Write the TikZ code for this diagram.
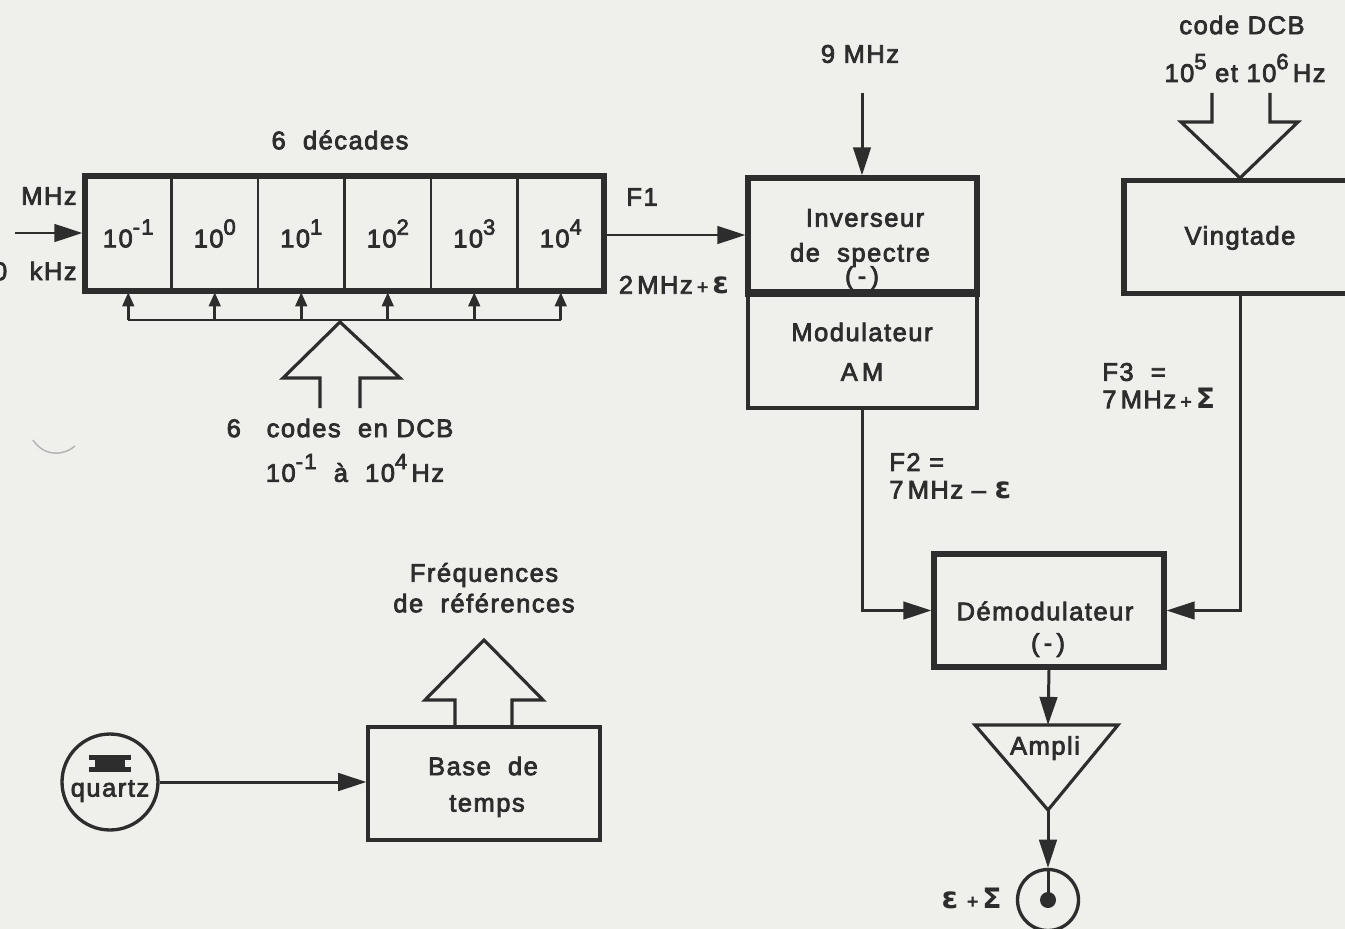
\documentclass[tikz,border=0pt]{standalone}
\usepackage{fontspec}
\setmainfont{Liberation Sans}[LetterSpace=6,FakeBold=3]
\newfontfamily\symfont{DejaVu Sans}
\usetikzlibrary{arrows.meta}
\definecolor{paper}{RGB}{239,239,236}
\definecolor{ink}{RGB}{45,45,45}
\newcommand\ex[1]{\raisebox{0.5em}{\fontsize{12.5}{12}\selectfont #1}}
\newcommand\eps{{\symfont\bfseries\fontsize{17}{17}\selectfont ε}}
\newcommand\sig{{\symfont\bfseries\fontsize{16}{16}\selectfont Σ}}
\newcommand\pls{{\fontsize{11}{11}\selectfont +}}
\begin{document}
\begin{tikzpicture}[x=0.02cm,y=-0.02cm,
  txt/.style={text=ink, font=\fontsize{14.5}{17}\selectfont, inner sep=0pt, align=center},
  ln/.style={draw=ink, line width=1.7pt},
  arr/.style={ln, -{Triangle[length=16pt,width=10pt]}},
  sarr/.style={ln, -{Triangle[length=8pt,width=6.5pt]}},
  hollow/.style={draw=ink, line width=1.8pt, line join=miter},
  thickbox/.style={draw=ink, line width=3pt, inner sep=0pt},
  thinbox/.style={draw=ink, line width=1.9pt, inner sep=0pt},
  cell/.style={draw=ink, line width=1.4pt, inner sep=0pt, minimum width=1.73cm, minimum height=2.3cm, text=ink, font=\fontsize{14.5}{17}\selectfont}
]
\useasboundingbox (0,0) rectangle (1345,929);
\clip (0,0) rectangle (1345,929);
\fill[paper] (0,0) rectangle (1345,929);

% ---- decades block
\node[cell] (c1) at (128.25,233.5) {10\ex{-1}};
\node[cell] (c2) at (214.75,233.5) {10\ex{0}};
\node[cell] (c3) at (301.25,233.5) {10\ex{1}};
\node[cell] (c4) at (387.75,233.5) {10\ex{2}};
\node[cell] (c5) at (474.25,233.5) {10\ex{3}};
\node[cell] (c6) at (560.75,233.5) {10\ex{4}};
\node[thickbox, minimum width=10.38cm, minimum height=2.3cm] (dec) at (344.5,233.5) {};
\node[txt] (sixdec) at (340,140) {6\ \ décades};
\node[txt, anchor=east] (mhz) at (77,196) {MHz};
\node[txt, anchor=east] (khz) at (77,271) {0\hspace{0.45cm}kHz};
\coordinate (inL) at (15,233);
\draw[arr] (inL) -- (inL -| dec.west);

% bus
\coordinate (busL) at (128,320);
\coordinate (busR) at (561,320);
\draw[ln] (busL) -- (busR);
\foreach \c in {c1,c2,c3,c4,c5,c6}{
  \draw[sarr] (\c.south |- busL) -- (\c.south);
}
% hollow arrow (6 codes)
\draw[hollow] (320,408) -- (320,378) -- (283,378) -- (340,322) -- (400,378) -- (360,378) -- (360,408);
\node[txt] (codes) at (340,428) {6\ \ \ codes\ \ en\ DCB};
\node[txt] (codesr) at (355,468) {10\ex{-1}\ \ à\ \ 10\ex{4}\,Hz};

% ---- inverseur / modulateur
\node[thickbox, minimum width=4.58cm, minimum height=2.28cm] (inv) at (862.5,235) {};
\node[thinbox, minimum width=4.58cm, minimum height=2.32cm] (mod) at (862.5,350) {};
\draw[draw=ink, line width=3pt] (inv.south west) -- (inv.south east);
\node[txt] at (865,218) {Inverseur};
\node[txt] at (860,255) {de\ \ spectre};
\node[txt] at (862,278) {(\,-\,)};
\node[txt] at (862,332) {Modulateur};
\node[txt] at (862,372) {A\,M};

\node[txt] (f1) at (642,197) {F1};
\node[txt] (f1v) at (674,285) {2\,MHz\,\pls\,\eps};
\draw[arr] (inv.west -| dec.east) -- (inv.west);

\node[txt] (nine) at (860,54) {9 MHz};
\coordinate (nineS) at (862,93);
\draw[arr] (nineS) -- (nineS |- inv.north);

% ---- vingtade
\node[thickbox, minimum width=4.64cm, minimum height=2.26cm] (ving) at (1240,237) {};
\node[txt] at (1240,238) {Vingtade};
\node[txt] (dcb) at (1242,25) {code DCB};
\node[txt] (dcbr) at (1245,68) {10\ex{5}\ et\ 10\ex{6}\,Hz};
\draw[hollow] (1212,93) -- (1212,122) -- (1181,122) -- (1240,178) -- (1298,122) -- (1270,122) -- (1270,93);

% ---- demodulateur
\node[thickbox, minimum width=4.6cm, minimum height=2.26cm] (dem) at (1049,610.5) {};
\node[txt] at (1045,611) {Démodulateur};
\node[txt] at (1048,645) {(\,-\,)};
\draw[arr] (mod.south) |- (dem.west);
\draw[arr] (ving.south) |- (dem.east);
\node[txt, anchor=west] (f2a) at (889,462) {F2 =};
\node[txt, anchor=west] (f2b) at (889,490) {7\,MHz\ –\ \eps};
\node[txt, anchor=west] (f3a) at (1102,372) {F3\ \ =};
\node[txt, anchor=west] (f3b) at (1102,398) {7\,MHz\,\pls\,\sig};

% ---- ampli
\coordinate (ampTop) at (1048,725);
\coordinate (ampTip) at (1048,810);
\draw[hollow] (975,725) -- (1118,725) -- (ampTip) -- cycle;
\node[txt] at (1045,748) {Ampli};
\draw[arr] (dem.south) -- (ampTop);
\node[draw=ink, line width=1.9pt, circle, minimum size=1.22cm, inner sep=0pt] (out) at (1048,900) {};
\node[fill=ink, circle, minimum size=0.32cm, inner sep=0pt] (dot) at (1048,900) {};
\draw[arr] (ampTip) -- (out.north);
\draw[ln] (out.north) -- (dot.center);
\node[txt, anchor=east] (es) at (1002,898) {\eps\ \pls\,\sig};

% ---- quartz + base de temps
\node[draw=ink, line width=1.9pt, circle, minimum size=1.92cm, inner sep=0pt] (q) at (110,782) {};
\node[txt] at (110,791) {quartz};
\fill[ink] (89,755) rectangle (131,760);
\fill[ink] (95,760) rectangle (125,767);
\fill[ink] (89,767) rectangle (131,772);
\node[thinbox, minimum width=4.64cm, minimum height=2.26cm] (base) at (484,783.5) {};
\node[txt] at (483,766) {Base\ \ de};
\node[txt] at (487,806) {temps};
\draw[arr] (q.east) -- (q.east -| base.west);
\draw[hollow] (455,727) -- (455,700) -- (425,700) -- (484,640) -- (543,700) -- (512,700) -- (512,727);
\node[txt] (freq) at (484,575) {Fréquences};
\node[txt] (ref) at (484,603) {de\ \ références};

% scan mark
\draw[gray!60, line width=0.8pt] (33,440) .. controls (45,458) and (65,455) .. (75,446);
\end{tikzpicture}
\end{document}
